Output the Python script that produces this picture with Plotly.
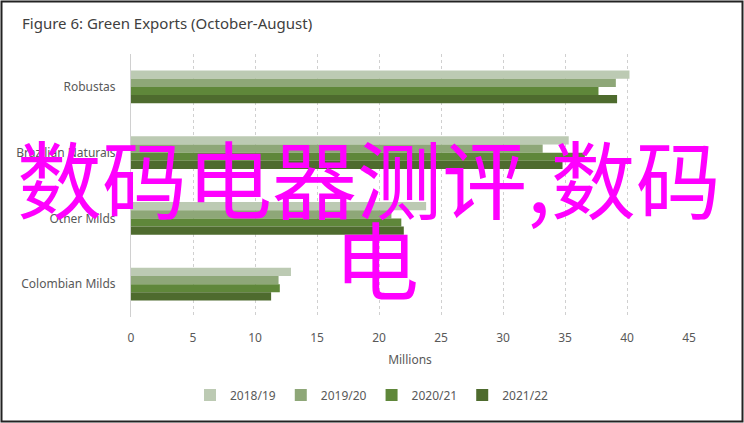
"""
Green exports chart (October-August), grouped horizontal bars.
"""

from plotly.graph_objects import Bar, Figure

# data
categories = ["Robustas", "Brazilian Naturals", "Other Milds", "Colombian Milds"]
seasons = ["2018/19", "2019/20", "2020/21", "2021/22"]
exports_1819 = [40.2, 35.3, 23.8, 12.9]
exports_1920 = [39.1, 33.2, 21.0, 11.9]
exports_2021 = [37.7, 36.6, 21.8, 12.0]
exports_2122 = [39.2, 34.8, 22.0, 11.3]
colors = ["#bccab3", "#8ea778", "#5f873a", "#4e6b2e"]
x_ticks = [0, 5, 10, 15, 20, 25, 30, 35, 40, 45]

W, H = 744, 423
L, R, T, B = 131, 55, 54, 106
FONT = "Liberation Sans Narrow, Noto Sans, sans-serif"


def px(x):
    """pixel x -> paper x"""
    return (x - L) / (W - L - R)


def py(y):
    """pixel y -> paper y"""
    return 1 - (y - T) / (H - T - B)


def main():
    fig = Figure()
    series = [exports_1819, exports_1920, exports_2021, exports_2122]
    for name, vals, col in zip(seasons, series, colors):
        fig.add_trace(Bar(x=vals, y=categories, name=name, orientation="h",
                          marker_color=col, marker_line_width=0))

    fig.update_layout(
        width=W, height=H,
        margin={"l": L, "r": R, "t": T, "b": B},
        paper_bgcolor="white", plot_bgcolor="white",
        font={"family": FONT, "size": 12, "color": "#595959"},
        barmode="group", bargap=0.5, bargroupgap=0,
        title={"text": "Figure 6: Green Exports (October-August)",
               "x": 22 / W, "xanchor": "left", "y": 1 - 24 / H, "yanchor": "middle",
               "font": {"size": 15, "color": "#404040"}},
        xaxis={"range": [0, 45], "tickvals": x_ticks, "showgrid": True,
               "gridcolor": "#d0d0d0", "griddash": "dot", "gridwidth": 1,
               "zeroline": False, "showline": False, "ticks": "",
               "ticklabelstandoff": 12,
               "title": {"text": "Millions", "standoff": 10,
                         "font": {"size": 12, "color": "#595959"}}},
        yaxis={"autorange": "reversed", "showgrid": False, "zeroline": False,
               "showline": True, "linecolor": "#d0d0d0", "linewidth": 1,
               "ticks": "", "ticklabelstandoff": 12},
        legend={"orientation": "h", "x": px(372), "xanchor": "center",
                "y": py(395), "yanchor": "middle",
                "font": {"size": 12, "color": "#595959"}, "traceorder": "normal"},
        showlegend=True,
    )

    # outer frame
    fig.add_shape(type="rect", xref="paper", yref="paper",
                  x0=px(1.5), x1=px(742.5), y0=py(421.5), y1=py(1.5),
                  line={"color": "#222222", "width": 2}, fillcolor="rgba(0,0,0,0)")

    # overlay text
    fig.add_annotation(text="数码电器测评,数码", xref="paper", yref="paper",
                       x=px(369), y=py(175), xanchor="center", yanchor="middle",
                       showarrow=False,
                       font={"family": "Noto Sans CJK SC", "size": 85, "color": "#ff00ff"})
    fig.add_annotation(text="电", xref="paper", yref="paper",
                       x=px(376), y=py(256), xanchor="center", yanchor="middle",
                       showarrow=False,
                       font={"family": "Noto Sans CJK SC", "size": 85, "color": "#ff00ff"})

    fig.write_html("out.html", config={"displayModeBar": False},
                   post_script="document.body.style.margin='0';")


if __name__ == "__main__":
    main()
